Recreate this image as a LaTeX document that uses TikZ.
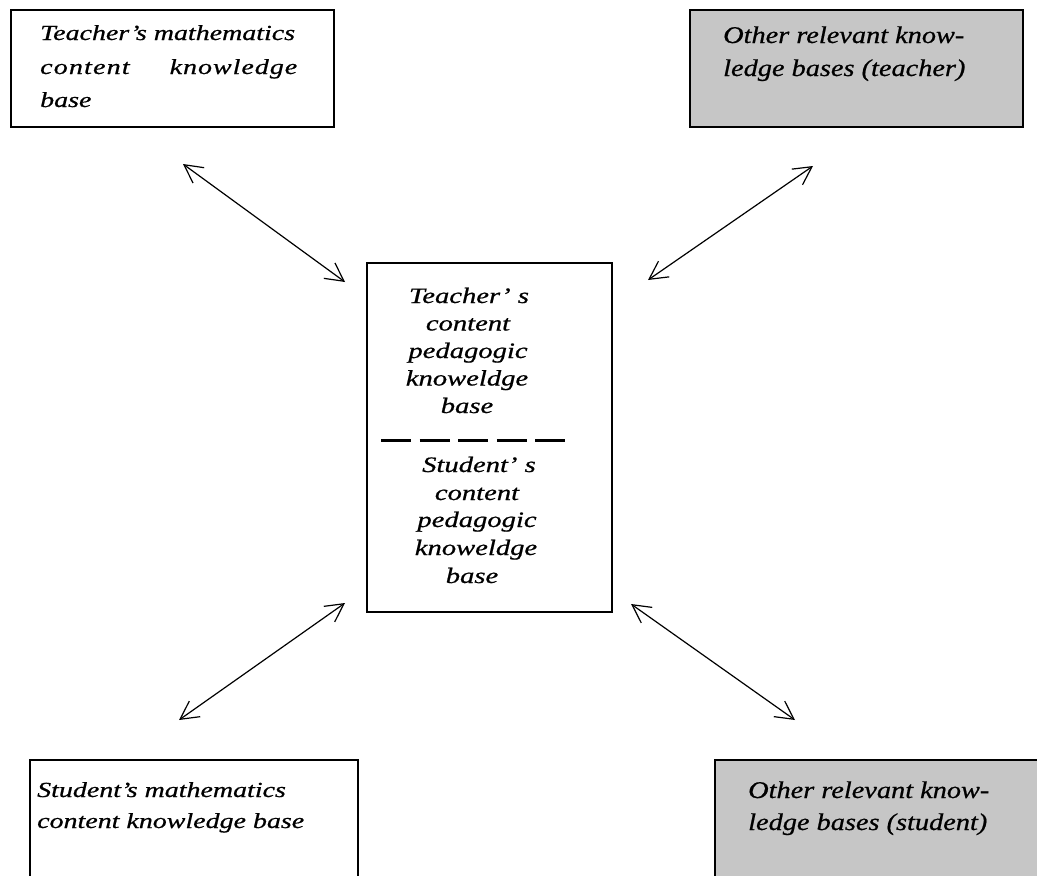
\documentclass[tikz,border=0pt]{standalone}
\usepackage{fontspec}
\setmainfont{Liberation Serif}[FakeStretch=1.3,FakeBold=0.7]
\newfontfamily\otherfont{Liberation Serif}[FakeStretch=1.18,FakeBold=0.7]
\usetikzlibrary{arrows.meta}
\tikzset{
  box/.style={draw=black, line width=1.3pt, inner sep=0pt, fill=white},
  graybox/.style={box, fill=gray!45},
  txt/.style={anchor=base west, inner sep=0pt, font=\fontsize{21.5pt}{26pt}\selectfont\itshape},
  otxt/.style={anchor=base west, inner sep=0pt, font=\otherfont\fontsize{24pt}{28pt}\selectfont\itshape},
  ctxt/.style={anchor=base, inner sep=0pt, font=\fontsize{22pt}{26pt}\selectfont\itshape},
  link/.style={line width=1.2pt, {Straight Barb[length=18pt,width=19pt,line width=1.2pt]}-{Straight Barb[length=18pt,width=19pt,line width=1.2pt]}}
}
\begin{document}
\begin{tikzpicture}[x=1pt,y=-1pt]
\clip (0,0) rectangle (1037,876);
\fill[white] (0,0) rectangle (1037,876);
% boxes
\node[box, minimum width=323pt, minimum height=117pt] (tl) at (172.5,68.5) {};
\node[graybox, minimum width=333pt, minimum height=117pt] (tr) at (856.5,68.5) {};
\node[box, minimum width=245pt, minimum height=349pt] (cb) at (489.5,437.5) {};
\node[box, minimum width=328pt, minimum height=130pt] (bl) at (194,825) {};
\node[graybox, minimum width=335pt, minimum height=130pt] (br) at (882.5,825) {};
% top-left text
\node[txt] (tl1) at (40,40) {Teacher’s mathematics};
\node[txt] (tl2) at (40,74) {\hbox to 257pt{c\kern1.2pt o\kern1.2pt n\kern1.2pt t\kern1.2pt e\kern1.2pt n\kern1.2pt t\hfill k\kern1pt n\kern1pt o\kern1pt w\kern1pt l\kern1pt e\kern1pt d\kern1pt g\kern1pt e}};
\node[txt] (tl3) at (40,107) {base};
% top-right text
\node[otxt] (tr1) at (723,43) {Other relevant know-};
\node[otxt] (tr2) at (723,76) {ledge bases (teacher)};
% bottom-left text
\node[txt] (bl1) at (37,797) {Student’s mathematics};
\node[txt] (bl2) at (37,828) {content knowledge base};
% bottom-right text
\node[otxt] (br1) at (748,798) {Other relevant know-};
\node[otxt] (br2) at (748,830) {ledge bases (student)};
% centre text
\node[ctxt] (c1) at (469,303) {Teacher’ s};
\node[ctxt] (c2) at (468,330.5) {content};
\node[ctxt] (c3) at (468,358) {pedagogic};
\node[ctxt] (c4) at (467,385.5) {knoweldge};
\node[ctxt] (c5) at (467,413) {base};
\coordinate (d1) at (381,440);
\coordinate (d2) at (568,440);
\draw[line width=3pt, dash pattern=on 30pt off 8.6pt] (d1) -- (d2);
\node[ctxt] (c6) at (479,472) {Student’ s};
\node[ctxt] (c7) at (477,500) {content};
\node[ctxt] (c8) at (477,527) {pedagogic};
\node[ctxt] (c9) at (476,555) {knoweldge};
\node[ctxt] (c10) at (472,583) {base};
% arrows
\coordinate (a1s) at (183,164);
\coordinate (a1e) at (345,282);
\coordinate (a2s) at (813,166);
\coordinate (a2e) at (648,280);
\coordinate (a3s) at (345,603);
\coordinate (a3e) at (179,720);
\coordinate (a4s) at (631,604);
\coordinate (a4e) at (795,720);
\draw[link] (a1s) -- (a1e);
\draw[link] (a2s) -- (a2e);
\draw[link] (a3s) -- (a3e);
\draw[link] (a4s) -- (a4e);
\end{tikzpicture}
\end{document}
